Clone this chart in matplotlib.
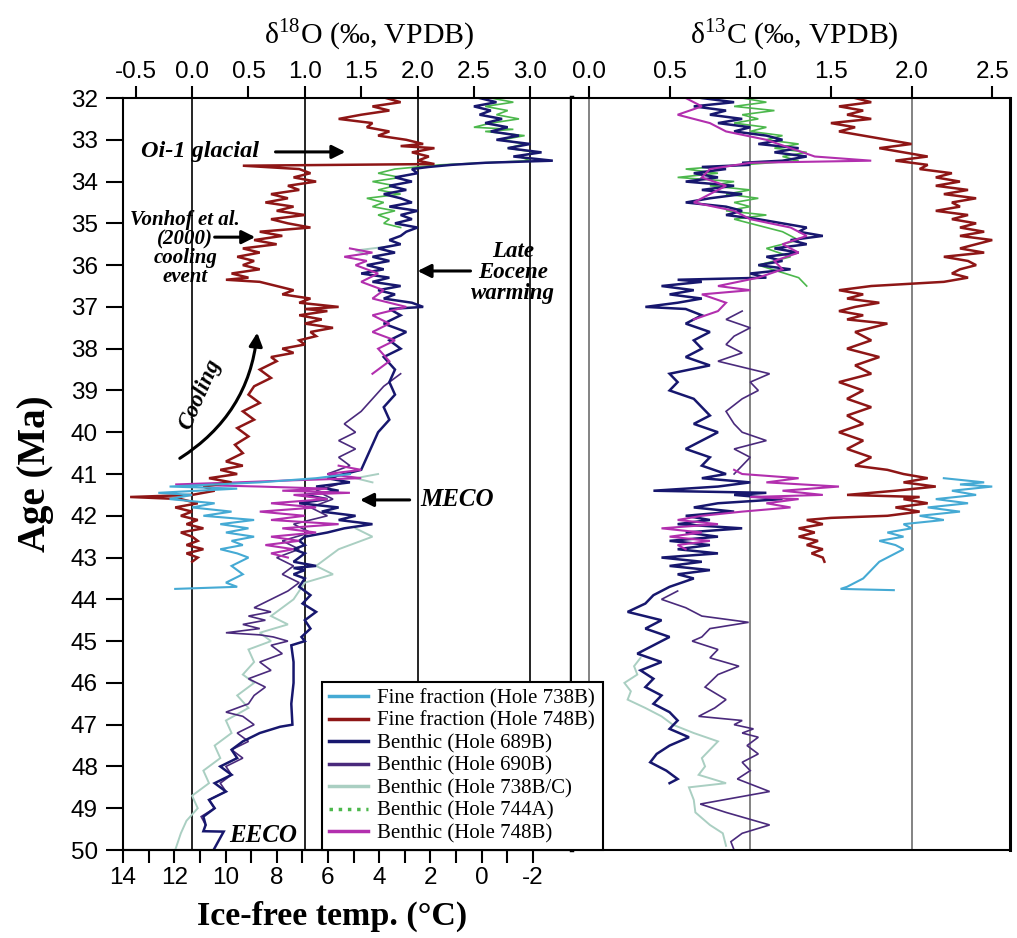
import matplotlib.pyplot as plt
from matplotlib.lines import Line2D
from matplotlib.patches import FancyArrowPatch
from matplotlib.ticker import FixedLocator
import numpy as np

plt.rcParams['font.family'] = ['Liberation Sans', 'DejaVu Sans']
plt.rcParams['axes.unicode_minus'] = False
plt.rcParams['mathtext.fontset'] = 'custom'
plt.rcParams['mathtext.rm'] = 'Liberation Serif'

nan = np.nan

# ---- data: [age (Ma), value] ----
# fine fraction, Hole 748B
ff748_d18o = [[32.0,1.72],[32.1,1.85],[32.2,1.6],[32.3,1.75],[32.4,1.5],[32.5,1.3],[32.55,1.45],[32.6,1.6],
              [32.7,1.55],[32.8,1.75],[32.9,1.65],[33.0,1.9],[33.1,2.05],[33.15,1.85],[33.2,2.15],[33.3,1.95],
              [33.4,2.1],[33.5,2.0],[33.58,2.15],[33.62,0.45],[33.7,0.95],[33.8,1.05],[33.9,0.9],[34.0,1.1],
              [34.1,0.85],[34.2,0.95],[34.3,0.7],[34.4,0.85],[34.5,0.65],[34.6,0.9],[34.7,0.75],[34.8,1.0],
              [34.9,0.7],[35.0,0.85],[35.1,1.05],[35.2,0.6],[35.3,0.8],[35.4,0.55],[35.5,0.75],[35.6,0.45],
              [35.7,0.6],[35.8,0.4],[35.9,0.55],[36.0,0.45],[36.1,0.6],[36.2,0.35],[36.3,0.5],[36.35,0.3],
              [36.4,0.6],[36.5,0.75],[36.6,0.9],[36.7,0.8],[36.8,1.05],[36.9,0.95],[37.0,1.3],[37.05,1.0],
              [37.1,1.2],[37.2,0.95],[37.3,1.15],[37.4,1.0],[37.5,1.25],[37.6,1.05],[37.7,1.1],[37.8,0.95],
              [37.9,1.0],[38.0,0.8],[38.1,0.9],[38.2,0.7],[38.3,0.75],[38.5,0.6],[38.7,0.7],[38.9,0.55],
              [39.1,0.5],[39.3,0.6],[39.5,0.45],[39.7,0.55],[39.9,0.4],[40.1,0.5],[40.3,0.38],[40.5,0.45],
              [40.7,0.3],[40.8,0.45],[40.9,0.25],[41.0,0.4],[41.1,0.15],[41.2,0.35],[41.3,0.1],[41.4,0.2],
              [41.5,0.0],[41.55,-0.55],[41.6,-0.1],[41.7,0.05],[41.8,-0.15],[41.9,0.0],[42.0,-0.1],[42.1,0.05],
              [42.2,-0.05],[42.3,0.1],[42.4,-0.1],[42.5,0.0],[42.6,0.05],[42.7,-0.05],[42.8,0.1],[42.9,-0.05],
              [43.0,0.05],[43.1,0.0]]
ff748_d13c = [[32.0,1.65],[32.1,1.75],[32.2,1.55],[32.3,1.7],[32.4,1.6],[32.5,1.75],[32.6,1.5],[32.7,1.65],
              [32.8,1.55],[32.9,1.7],[33.0,1.85],[33.1,2.0],[33.2,1.8],[33.3,1.95],[33.4,2.1],[33.5,1.9],
              [33.6,2.1],[33.7,2.05],[33.8,2.25],[33.9,2.15],[34.0,2.3],[34.1,2.15],[34.2,2.35],[34.3,2.2],
              [34.4,2.4],[34.5,2.25],[34.6,2.3],[34.7,2.15],[34.8,2.35],[34.9,2.25],[35.0,2.4],[35.1,2.3],
              [35.2,2.45],[35.3,2.3],[35.4,2.5],[35.5,2.4],[35.6,2.3],[35.7,2.45],[35.8,2.2],[35.9,2.35],
              [36.0,2.4],[36.1,2.3],[36.2,2.25],[36.3,2.35],[36.4,2.2],[36.5,1.75],[36.6,1.55],[36.7,1.7],
              [36.8,1.6],[36.9,1.8],[37.0,1.65],[37.1,1.55],[37.2,1.7],[37.3,1.6],[37.4,1.85],[37.6,1.65],
              [37.8,1.75],[38.0,1.6],[38.2,1.8],[38.4,1.65],[38.6,1.75],[38.8,1.55],[39.0,1.7],[39.2,1.6],
              [39.4,1.75],[39.6,1.6],[39.8,1.7],[40.0,1.55],[40.2,1.7],[40.4,1.6],[40.6,1.75],[40.8,1.65],
              [40.9,1.85],[41.0,1.95],[41.1,2.1],[41.2,1.95],[41.3,2.15],[41.4,1.9],[41.5,1.6],[41.55,2.05],
              [41.6,1.95],[41.7,2.1],[41.8,1.9],[41.9,2.05],[42.0,1.85],[42.05,1.5],[42.1,1.35],[42.2,1.45],
              [42.3,1.3],[42.4,1.4],[42.5,1.3],[42.6,1.42],[42.7,1.35],[42.8,1.45],[42.9,1.38],[43.0,1.45],
              [43.1,1.46]]
# fine fraction, Hole 738B
ff738_d18o = [[41.0,1.4],[41.1,1.1],[41.2,0.6],[41.25,0.2],[41.3,-0.2],[41.35,0.4],[41.4,0.05],[41.45,-0.3],
              [41.5,0.0],[41.6,-0.2],[41.7,0.2],[41.8,0.0],[41.9,0.35],[42.0,0.1],[42.1,0.55],[42.2,0.25],
              [42.3,0.5],[42.4,0.3],[42.5,0.55],[42.6,0.35],[42.7,0.45],[42.8,0.25],[42.9,0.4],[43.0,0.5],
              [43.2,0.35],[43.4,0.45],[43.6,0.3],[43.7,0.4],[43.75,-0.15]]
ff738_d13c = [[41.1,2.2],[41.2,2.45],[41.25,2.3],[41.3,2.5],[41.4,2.25],[41.5,2.4],[41.6,2.15],[41.7,2.35],
              [41.8,2.1],[41.9,2.3],[42.0,2.05],[42.1,2.2],[42.2,1.95],[42.3,2.0],[42.4,1.85],[42.5,1.95],
              [42.6,1.8],[42.7,1.9],[42.8,1.95],[42.9,1.9],[43.1,1.8],[43.3,1.75],[43.5,1.7],[43.7,1.6],
              [43.75,1.56],[43.78,1.89]]
# benthic, Hole 689B
b689_d18o = [[32.0,2.55],[32.1,2.7],[32.2,2.5],[32.3,2.65],[32.4,2.55],[32.5,2.75],[32.6,2.6],[32.7,2.8],
             [32.8,2.65],[32.9,2.9],[33.0,2.7],[33.1,3.0],[33.2,2.8],[33.3,3.1],[33.4,2.85],[33.5,3.2],
             [33.55,2.6],[33.6,2.3],[33.65,2.1],[33.7,1.95],[33.8,2.0],[33.9,1.8],[34.0,1.95],[34.1,1.75],
             [34.2,1.9],[34.3,1.7],[34.4,1.85],[34.5,1.95],[34.6,1.75],[34.7,2.0],[34.8,1.85],[34.9,1.95],
             [35.0,1.8],[35.1,2.0],[35.2,1.9],[35.3,1.85],[35.4,1.75],[35.5,1.85],[35.6,1.65],[35.7,1.8],
             [35.8,1.6],[35.9,1.75],[36.0,1.55],[36.1,1.7],[36.2,1.5],[36.3,1.75],[36.4,1.6],[36.5,1.85],
             [36.6,1.65],[36.7,1.8],[36.8,1.7],[36.9,1.95],[37.0,2.05],[37.05,1.75],[37.2,1.85],[37.4,1.7],
             [37.6,1.9],[37.8,1.75],[38.0,1.85],[38.2,1.7],[38.5,1.8],[38.8,1.75],[39.1,1.8],[39.4,1.7],
             [39.7,1.75],[40.0,1.65],[40.3,1.6],[40.6,1.55],[40.9,1.5],[41.0,1.35],[41.1,1.2],[41.2,1.4],
             [41.3,1.1],[41.4,1.3],[41.5,1.0],[41.6,1.2],[41.7,0.95],[41.8,1.3],[41.9,1.15],[42.0,1.45],
             [42.1,1.3],[42.2,1.6],[42.3,1.35],[42.4,1.2],[42.5,1.0],[42.6,0.95],[42.7,1.0],[42.8,0.9],
             [42.9,1.0],[43.0,0.95],[43.1,0.9],[43.2,1.1],[43.25,0.9],[43.3,1.0],[43.4,0.9],[43.5,1.0],
             [43.7,0.95],[43.9,1.05],[44.1,0.98],[44.3,1.1],[44.5,1.0],[44.7,1.05],[44.9,0.97],[45.0,1.0],
             [45.1,0.88],[45.5,0.9],[46.0,0.9],[46.5,0.88],[47.0,0.89],[47.05,0.78],[47.2,0.6],[47.4,0.45],
             [47.6,0.35],[47.8,0.4],[48.0,0.25],[48.2,0.35],[48.4,0.2],[48.6,0.3],[48.8,0.15],[49.0,0.2],
             [49.2,0.1],[49.4,0.12],[49.55,0.1],[49.56,0.28],[50.0,0.19]]
b689_d13c = [[32.0,0.7],[32.1,0.9],[32.2,0.65],[32.3,0.85],[32.4,0.75],[32.5,0.95],[32.6,0.8],[32.7,1.0],
             [32.8,0.9],[32.9,1.1],[33.0,1.2],[33.1,1.05],[33.2,1.3],[33.3,1.15],[33.4,1.35],[33.5,1.2],
             [33.55,0.95],[33.6,1.0],[33.65,0.7],[33.7,0.85],[33.8,0.65],[33.9,0.8],[34.0,0.6],[34.1,0.9],
             [34.2,0.7],[34.3,0.95],[34.4,0.75],[34.5,0.6],[34.6,0.85],[34.7,0.95],[34.8,0.85],[34.9,1.05],
             [35.0,1.2],[35.1,1.35],[35.2,1.3],[35.3,1.45],[35.4,1.25],[35.5,1.35],[35.6,1.15],[35.7,1.3],
             [35.8,1.1],[35.9,1.2],[36.0,1.05],[36.1,1.25],[36.2,1.0],[36.3,1.1],[36.35,0.55],[36.4,0.7],
             [36.5,0.45],[36.6,0.65],[36.7,0.5],[36.8,0.7],[36.9,0.55],[37.0,0.35],[37.05,0.6],[37.2,0.7],
             [37.4,0.6],[37.6,0.75],[37.8,0.65],[38.0,0.7],[38.2,0.6],[38.4,0.75],[38.6,0.5],[38.8,0.55],
             [39.0,0.5],[39.2,0.65],[39.4,0.7],[39.6,0.75],[39.8,0.65],[40.0,0.8],[40.2,0.7],[40.4,0.6],
             [40.6,0.75],[40.8,0.7],[41.0,0.85],[41.1,0.7],[41.2,1.0],[41.3,0.8],[41.4,0.4],[41.45,1.1],
             [41.5,0.9],[41.6,1.2],[41.7,0.8],[41.8,0.65],[41.9,0.9],[42.0,0.6],[42.1,0.75],[42.2,0.55],
             [42.3,0.95],[42.4,0.6],[42.5,0.8],[42.6,0.5],[42.7,0.75],[42.8,0.55],[42.9,0.8],[43.0,0.45],
             [43.1,0.7],[43.2,0.5],[43.3,0.75],[43.4,0.55],[43.5,0.65],[43.7,0.5],[43.9,0.4],[44.1,0.35],
             [44.3,0.24],[44.5,0.45],[44.7,0.35],[44.9,0.5],[45.1,0.4],[45.3,0.3],[45.5,0.45],[45.7,0.32],
             [45.9,0.4],[46.1,0.35],[46.3,0.45],[46.5,0.4],[46.7,0.5],[46.9,0.55],[47.1,0.5],[47.3,0.62],
             [47.5,0.5],[47.7,0.42],[47.9,0.38],[48.1,0.48],[48.3,0.55],[48.4,0.5]]
# benthic, Hole 690B
b690_d18o = [[38.6,1.85],[38.9,1.7],[39.2,1.6],[39.5,1.5],[39.8,1.35],[40.0,1.45],[40.2,1.3],[40.4,1.45],
             [40.6,1.3],[40.8,1.4],[41.0,1.2],[41.2,1.35],[41.4,1.1],[41.6,1.25],[41.8,1.05],[42.0,1.2],
             [42.2,0.9],[42.4,1.05],[42.6,0.8],[42.8,0.95],[43.0,0.75],[43.2,0.9],[43.4,0.8],[43.6,0.95],
             [43.8,0.85],[44.0,0.7],[44.2,0.55],[44.3,0.7],[44.4,0.5],[44.5,0.65],[44.6,0.45],[44.7,0.6],
             [44.8,0.3],[44.85,0.6],[44.9,0.72],[45.0,0.85],[45.1,0.7],[45.3,0.8],[45.5,0.6],[45.7,0.7],
             [45.9,0.5],[46.1,0.65],[46.3,0.55],[46.5,0.5],[46.7,0.3],[46.8,0.45],[47.0,0.55],[47.2,0.4],
             [47.4,0.5],[47.6,0.35],[47.8,0.45],[48.0,0.3],[48.2,0.35],[48.4,0.25],[48.6,0.3],[48.8,0.15],
             [49.0,0.2],[49.2,0.08],[49.4,0.12]]
b690_d13c = [[37.1,0.95],[37.3,0.85],[37.5,1.0],[37.7,0.9],[37.9,0.85],[38.1,0.95],[38.3,0.8],[38.6,1.12],
             [38.8,1.0],[39.0,1.05],[39.2,0.95],[39.5,0.85],[39.8,0.9],[40.0,0.95],[40.2,1.1],[40.4,0.9],
             [40.6,1.0],[40.8,0.95],[41.0,0.9],[41.05,nan],[43.8,0.55],[44.0,0.45],[44.2,0.6],[44.4,0.7],
             [44.55,0.99],[44.7,0.75],[44.9,0.7],[45.0,0.64],[45.2,0.8],[45.4,0.75],[45.6,0.93],[45.8,0.8],
             [46.1,0.72],[46.4,0.85],[46.6,0.78],[46.8,0.68],[46.9,0.95],[47.0,0.9],[47.1,1.02],[47.2,0.95],
             [47.3,1.05],[47.5,0.98],[47.7,1.05],[47.9,0.95],[48.1,1.0],[48.3,0.92],[48.6,1.12],[48.9,0.69],
             [49.1,0.85],[49.4,1.12],[49.6,0.95],[49.8,0.88],[50.0,0.9]]
# benthic, Hole 738B/C
b738_d18o = [[35.55,1.75],[35.65,1.45],[35.75,1.55],[35.8,nan],[41.0,1.65],[41.1,1.45],[41.2,1.6],[41.3,nan],
             [42.3,1.45],[42.5,1.6],[42.6,1.5],[42.8,1.3],[43.0,1.2],[43.2,1.1],[43.4,1.25],[43.6,1.0],
             [43.8,0.95],[44.0,0.9],[44.2,0.8],[44.4,0.7],[44.6,0.85],[44.8,0.6],[45.0,0.7],[45.2,0.5],
             [45.5,0.55],[45.8,0.45],[46.0,0.55],[46.3,0.4],[46.6,0.5],[46.9,0.3],[47.2,0.35],[47.5,0.2],
             [47.8,0.25],[48.1,0.1],[48.4,0.15],[48.7,0.0],[49.0,0.05],[49.3,-0.05],[49.6,-0.1],[50.0,-0.15]]
b738_d13c = [[45.4,0.32],[45.6,0.28],[45.8,0.3],[46.0,0.22],[46.2,0.26],[46.4,0.24],[46.6,0.35],[46.8,0.45],
             [47.0,0.52],[47.2,0.65],[47.4,0.8],[47.6,0.75],[47.8,0.7],[48.0,0.72],[48.2,0.68],[48.4,0.85],
             [48.5,0.62],[48.8,0.65],[49.1,0.66],[49.4,0.75],[49.6,0.83],[49.9,0.85]]
# benthic, Hole 744A
b744_d18o = [[32.0,2.65],[32.1,2.85],[32.2,2.6],[32.3,2.8],[32.4,2.7],[32.5,2.9],[32.6,2.65],[32.7,2.5],
             [32.75,2.85],[32.8,2.6],[32.9,2.95],[33.0,2.75],[33.1,2.95],[33.2,2.8],[33.3,3.05],[33.4,2.9],
             [33.5,3.0],[33.6,2.2],[33.7,1.8],[33.8,1.65],[33.9,1.85],[34.0,1.6],[34.1,1.8],[34.2,1.65],
             [34.3,1.85],[34.4,1.55],[34.5,1.7],[34.6,1.6],[34.7,1.8],[34.8,1.65],[34.9,1.75],[35.0,1.7],
             [35.1,1.85]]
b744_d13c = [[32.0,0.95],[32.1,1.1],[32.2,0.9],[32.3,1.15],[32.4,0.95],[32.5,1.05],[32.6,0.9],[32.7,1.1],
             [32.8,1.0],[32.9,1.2],[33.0,1.1],[33.1,1.3],[33.2,1.15],[33.3,1.35],[33.4,1.2],[33.5,1.3],
             [33.6,0.95],[33.7,0.6],[33.8,0.8],[33.9,0.55],[34.0,0.9],[34.1,0.75],[34.2,1.0],[34.3,0.85],
             [34.4,1.05],[34.5,0.9],[34.6,1.0],[34.7,0.85],[34.8,1.1],[34.9,0.9],[35.0,1.0],[35.2,1.2],
             [35.4,1.3],[35.6,1.1],[35.8,1.25],[36.0,1.05],[36.3,1.3],[36.5,1.35]]
# benthic, Hole 748B
b748_d18o = [[35.6,1.4],[35.7,1.6],[35.8,1.35],[35.9,1.55],[36.0,1.45],[36.2,1.65],[36.4,1.5],[36.6,1.7],
             [36.8,1.6],[37.0,1.9],[37.2,1.6],[37.4,1.75],[37.6,1.6],[37.8,1.8],[38.0,1.65],[38.3,1.75],
             [38.6,1.6],[38.7,nan],[40.8,1.3],[40.9,1.5],[41.0,1.2],[41.1,1.5],[41.15,0.9],[41.2,0.4],
             [41.25,-0.15],[41.3,0.6],[41.35,1.2],[41.4,0.8],[41.45,1.4],[41.5,0.9],[41.6,1.2],[41.7,0.7],
             [41.8,1.1],[41.9,0.6],[42.0,1.0],[42.1,0.7],[42.2,1.3],[42.3,0.8],[42.4,1.1],[42.5,0.7],
             [42.6,0.95],[42.7,0.65],[42.8,0.9],[42.9,0.7],[43.0,0.85]]
b748_d13c = [[32.0,0.6],[32.2,0.7],[32.4,0.55],[32.6,0.75],[32.8,0.85],[33.0,1.1],[33.2,1.25],[33.4,1.4],
             [33.5,1.75],[33.55,1.0],[33.7,0.75],[33.9,0.7],[34.1,0.85],[34.3,0.75],[34.5,0.65],[34.7,0.9],
             [34.9,1.0],[35.1,1.25],[35.3,1.35],[35.5,1.2],[35.7,1.3],[35.9,1.15],[36.1,1.2],[36.3,1.05],
             [36.5,0.8],[36.6,1.0],[36.7,0.7],[36.9,0.85],[37.1,0.8],[37.3,0.65],[37.4,nan],[40.9,0.9],
             [41.0,0.95],[41.1,1.3],[41.2,1.1],[41.3,1.55],[41.4,1.2],[41.5,1.45],[41.55,1.0],[41.6,1.3],
             [41.7,1.1],[41.8,1.25],[41.9,0.95],[42.0,0.7],[42.1,0.55],[42.2,0.8],[42.3,0.45],[42.4,0.7],
             [42.5,0.5],[42.6,0.75],[42.7,0.55],[42.8,0.6]]

labels = ['Fine fraction (Hole 738B)', 'Fine fraction (Hole 748B)', 'Benthic (Hole 689B)',
          'Benthic (Hole 690B)', 'Benthic (Hole 738B/C)', 'Benthic (Hole 744A)', 'Benthic (Hole 748B)']
colors = ['#45aad4', '#8e1616', '#17176e', '#4a2a7c', '#aacfc2', '#4cb84c', '#b22fae']
styles = ['-', '-', '-', '-', '-', ':', '-']

d18o_ticks = np.arange(-0.5, 3.01, 0.5)
d13c_ticks = np.arange(0.0, 2.51, 0.5)
temp_ticks = [14, 12, 10, 8, 6, 4, 2, 0, -2]
age_ticks = np.arange(32, 51, 1)

# panel series: (data, colour index, linewidth), drawn bottom to top
left_series = [(b738_d18o, 4, 1.4), (b744_d18o, 5, 1.2), (b690_d18o, 3, 1.2), (b689_d18o, 2, 1.8),
               (b748_d18o, 6, 1.5), (ff748_d18o, 1, 1.8), (ff738_d18o, 0, 1.5)]
right_series = [(b738_d13c, 4, 1.4), (b744_d13c, 5, 1.2), (b690_d13c, 3, 1.2), (b689_d13c, 2, 1.8),
                (b748_d13c, 6, 1.5), (ff748_d13c, 1, 1.8), (ff738_d13c, 0, 1.5)]


def d2t(d):
    return 11.305 - 4.403 * np.asarray(d)


def t2d(t):
    return (11.305 - np.asarray(t)) / 4.403


fig = plt.figure(figsize=(10.17, 9.38), dpi=100)
ax1 = fig.add_axes([0.1209, 0.0938, 0.4415, 0.8017])
ax2 = fig.add_axes([0.5624, 0.0938, 0.4307, 0.8017])

for v in [0, 1, 2, 3]:
    ax1.axvline(v, color='k', lw=1.2, zorder=0.5)
for v in [0, 1, 2]:
    ax2.axvline(v, color='#6e6e6e', lw=1.2, zorder=0.5)

for ax, series in [(ax1, left_series), (ax2, right_series)]:
    for data, ci, lw in series:
        arr = np.array(data, dtype=float)
        ax.plot(arr[:, 1], arr[:, 0], color=colors[ci], lw=lw, solid_joinstyle='miter')

for ax in (ax1, ax2):
    ax.set_ylim(50, 32)
    ax.xaxis.tick_top()
    for s in ax.spines.values():
        s.set_linewidth(1.5)

ax1.set_xlim(-0.6135, 3.37)
ax1.set_xticks(d18o_ticks)
ax1.set_xticklabels(['%.1f' % v for v in d18o_ticks])
ax1.set_yticks(age_ticks)
ax1.tick_params(axis='x', direction='out', length=9, width=1.5, labelsize=17.5, pad=2)
ax1.tick_params(axis='y', direction='out', length=12, width=1.5, labelsize=17.5, pad=6)
ax1.spines['right'].set_linewidth(3.2)

ax2.set_xlim(-0.105, 2.61)
ax2.set_xticks(d13c_ticks)
ax2.set_xticklabels(['%.1f' % v for v in d13c_ticks])
ax2.tick_params(axis='x', direction='out', length=9, width=1.5, labelsize=17.5, pad=2)
ax2.tick_params(axis='y', left=False, labelleft=False)
ax2.spines['left'].set_visible(False)
ax2.spines['right'].set_linewidth(2.2)

sec = ax1.secondary_xaxis('bottom', functions=(d2t, t2d))
sec.set_xticks(temp_ticks)
sec.set_xticklabels([str(t) for t in temp_ticks])
sec.xaxis.set_minor_locator(FixedLocator([13, 11, 9, 7, 5, 3, 1, -1]))
sec.tick_params(which='major', direction='out', length=9, width=1.5, labelsize=17.5, pad=3)
sec.tick_params(which='minor', direction='out', length=9, width=1.5)
sec.spines['bottom'].set_linewidth(1.5)

serif = 'Liberation Serif'
fig.text(0.363, 0.963, 'δ$^{18}$O (‰, VPDB)', family=serif, size=21.5, ha='center', va='center')
fig.text(0.781, 0.963, 'δ$^{13}$C (‰, VPDB)', family=serif, size=21.5, ha='center', va='center')
fig.text(0.035, 0.495, 'Age (Ma)', family=serif, weight='bold', size=28, rotation=90,
         ha='center', va='center')
fig.text(0.327, 0.023, 'Ice-free temp. (°C)', family=serif, weight='bold', size=24.5,
         ha='center', va='center')

# annotations
ann = dict(family=serif, weight='bold', style='italic', color='k')
arw = dict(arrowstyle='-|>', color='k', lw=2.2, mutation_scale=20, shrinkA=0, shrinkB=0)
ax1.text(0.07, 33.29, 'Oi-1 glacial', size=17.5, ha='center', va='center', **ann)
ax1.annotate('', xy=(1.36, 33.29), xytext=(0.74, 33.29), arrowprops=arw)
ax1.text(-0.06, 35.6, 'Vonhof et al.\n(2000)\ncooling\nevent', size=15, ha='center', va='center',
         linespacing=0.92, **ann)
ax1.annotate('', xy=(0.56, 35.33), xytext=(0.2, 35.33), arrowprops=arw)
ax1.text(2.85, 36.17, 'Late\nEocene\nwarming', size=16.5, ha='center', va='center', linespacing=1.0, **ann)
ax1.annotate('', xy=(2.0, 36.14), xytext=(2.47, 36.14), arrowprops=arw)
ax1.text(2.35, 41.62, 'MECO', size=18, ha='center', va='center', **ann)
ax1.annotate('', xy=(1.49, 41.62), xytext=(1.93, 41.62), arrowprops=arw)
ax1.text(0.63, 49.66, 'EECO', size=18, ha='center', va='center', **ann)
ax1.text(0.07, 39.1, 'Cooling', size=16.5, ha='center', va='center', rotation=66, **ann)
ax1.add_patch(FancyArrowPatch((-0.13, 40.66), (0.58, 37.55), connectionstyle='arc3,rad=0.25',
                              arrowstyle='-|>', mutation_scale=20, lw=2.2, color='k'))

handles = [Line2D([], [], color=c, ls=s, lw=2.5) for c, s in zip(colors, styles)]
leg = fig.legend(handles, labels, loc='lower left', bbox_to_anchor=(0.3166, 0.0938, 0.2763, 0.1834),
                 mode='expand', borderaxespad=0, fancybox=False, framealpha=1, edgecolor='k',
                 prop={'family': serif, 'size': 15}, labelspacing=0.14, handlelength=1.9,
                 handletextpad=0.4, borderpad=0.32)
leg.get_frame().set_linewidth(1.5)

fig.savefig('out.png', dpi=100)
